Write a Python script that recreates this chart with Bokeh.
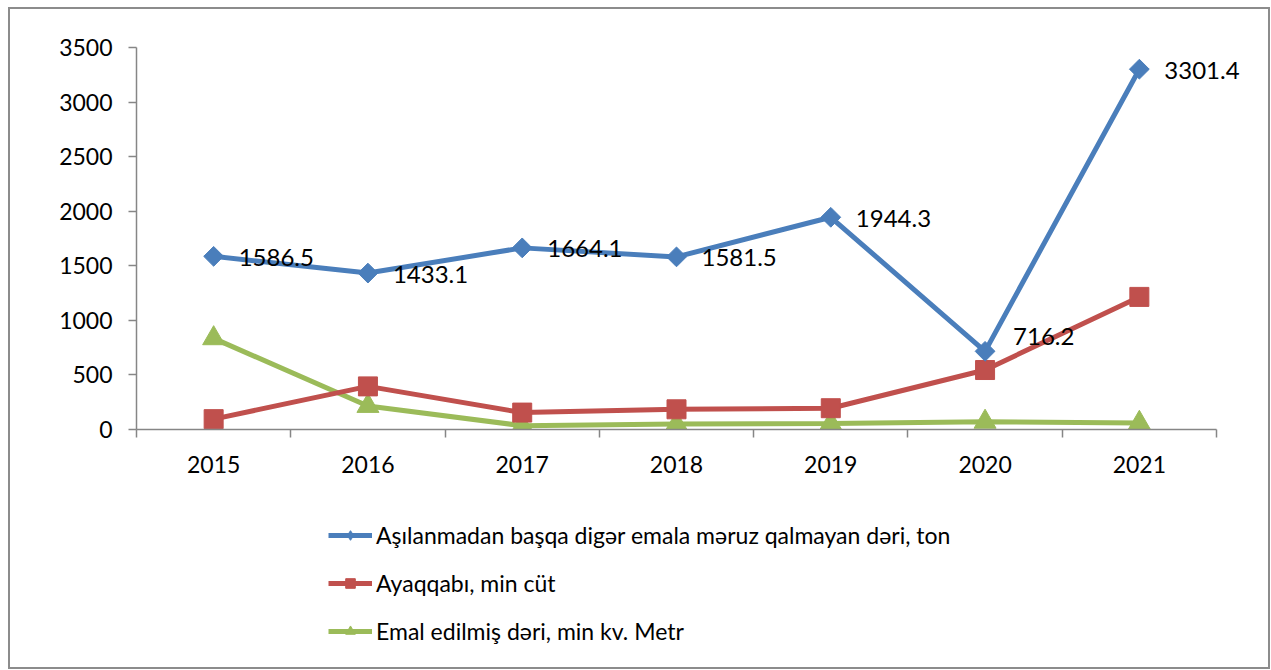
import numpy as np
from bokeh.plotting import figure
from bokeh.layouts import column
from bokeh.models import FixedTicker, Legend, LegendItem, Range1d, ColumnDataSource
from bokeh.core.properties import value
from bokeh.embed import file_html
from bokeh.resources import INLINE

years = ["2015", "2016", "2017", "2018", "2019", "2020", "2021"]
hides = [1586.5, 1433.1, 1664.1, 1581.5, 1944.3, 716.2, 3301.4]
shoes = [95, 395, 155, 185, 195, 545, 1215]
leather = [835, 215, 35, 50, 55, 70, 60]
names = [
    "Aşılanmadan başqa digər emala məruz qalmayan dəri, ton",
    "Ayaqqabı, min cüt",
    "Emal edilmiş dəri, min kv. Metr",
]
hide_labels = [f"{v:.1f}" for v in hides]

BLUE = "#4A7EBB"
RED = "#C0504D"
GREEN = "#9BBB59"
AXIS = "#868686"
FONT = "Lato"

n = len(years)
xs = [i + 0.5 for i in range(n)]

# frame extends a little beyond the last category so the last label is not clipped
axis_px = 1080
frame_px = 1122
x_end = n * frame_px / axis_px

W = 1258
p = figure(width=W, height=496, output_backend="svg", toolbar_location=None,
           x_range=Range1d(0, x_end), y_range=Range1d(0, 3500),
           min_border_left=126, min_border_top=38, min_border_right=10, min_border_bottom=76)
p.outline_line_color = None
p.xgrid.visible = False
p.ygrid.visible = False

# axes
p.yaxis.ticker = FixedTicker(ticks=list(range(0, 3501, 500)))
p.yaxis.axis_line_color = AXIS
p.yaxis.axis_line_width = 1.5
p.yaxis.major_tick_line_color = AXIS
p.yaxis.major_tick_line_width = 1.5
p.yaxis.major_tick_out = 8
p.yaxis.major_tick_in = 0
p.yaxis.minor_tick_line_color = None
p.yaxis.major_label_standoff = 16
p.yaxis.major_label_text_font = FONT
p.yaxis.major_label_text_font_size = "23px"
p.yaxis.major_label_text_color = "black"

p.xaxis.bounds = (0, n)
p.xaxis.ticker = FixedTicker(ticks=xs, minor_ticks=list(range(0, n + 1)))
p.xaxis.major_label_overrides = {x: y for x, y in zip(xs, years)}
p.xaxis.axis_line_color = AXIS
p.xaxis.axis_line_width = 1.5
p.xaxis.major_tick_line_color = None
p.xaxis.major_tick_out = 0
p.xaxis.major_tick_in = 0
p.xaxis.minor_tick_line_color = AXIS
p.xaxis.minor_tick_line_width = 1.5
p.xaxis.minor_tick_out = 8
p.xaxis.minor_tick_in = 0
p.xaxis.major_label_standoff = 18
p.xaxis.major_label_text_font = FONT
p.xaxis.major_label_text_font_size = "23px"
p.xaxis.major_label_text_color = "black"

styles = [
    (leather, GREEN, "triangle", 22, 0.0),
    (shoes, RED, "square", 19, 0.0),
    (hides, BLUE, "square", 14, np.pi / 4),
]
for vals, col, mk, sz, ang in styles:
    p.line(xs, vals, line_width=5, color=col)
    p.scatter(xs, vals, marker=mk, size=sz, angle=ang, color=col)

# data labels
main_idx = [i for i in range(n) if years[i] != "2020"]
src_main = ColumnDataSource(dict(x=[xs[i] for i in main_idx], y=[hides[i] for i in main_idx],
                                 t=[hide_labels[i] for i in main_idx]))
p.text("x", "y", "t", source=src_main, x_offset=25, y_offset=1, text_align="left",
       text_baseline="middle", text_font=value(FONT), text_font_size="24px", text_color="black")
i20 = years.index("2020")
p.text([xs[i20]], [hides[i20]], [hide_labels[i20]], x_offset=28, y_offset=-15, text_align="left",
       text_baseline="middle", text_font=value(FONT), text_font_size="24px", text_color="black")

# legend panel (separate figure; swatch renderers hold no visible data)
lp = figure(width=W, height=162, output_backend="svg", toolbar_location=None,
            x_range=Range1d(0, 1), y_range=Range1d(0, 1), min_border=0)
lp.axis.visible = False
lp.grid.visible = False
lp.outline_line_color = None
legend_markers = [("diamond", 15), ("square", 12), ("triangle", 13)]
items = []
for name, (vals, col, _, _, _), (mk, sz) in zip(names, styles[::-1], legend_markers):
    lr = lp.line([np.nan], [np.nan], line_width=5, color=col)
    sr = lp.scatter([np.nan], [np.nan], marker=mk, size=sz, color=col)
    items.append(LegendItem(label=name, renderers=[lr, sr]))

legend = Legend(items=items, location=(192, 22), orientation="vertical")
legend.border_line_color = None
legend.background_fill_alpha = 0
legend.padding = 0
legend.margin = 0
legend.spacing = 20
legend.glyph_width = 44
legend.glyph_height = 24
legend.label_height = 24
legend.label_standoff = 4
legend.label_text_font = FONT
legend.label_text_font_size = "23px"
legend.label_text_color = "black"
lp.add_layout(legend, "center")

layout = column(p, lp, spacing=0,
                styles={"border": "2px solid #8c8c8c", "margin-left": "8px", "margin-top": "7px"})

open("out.html", "w").write(file_html(layout, INLINE))
